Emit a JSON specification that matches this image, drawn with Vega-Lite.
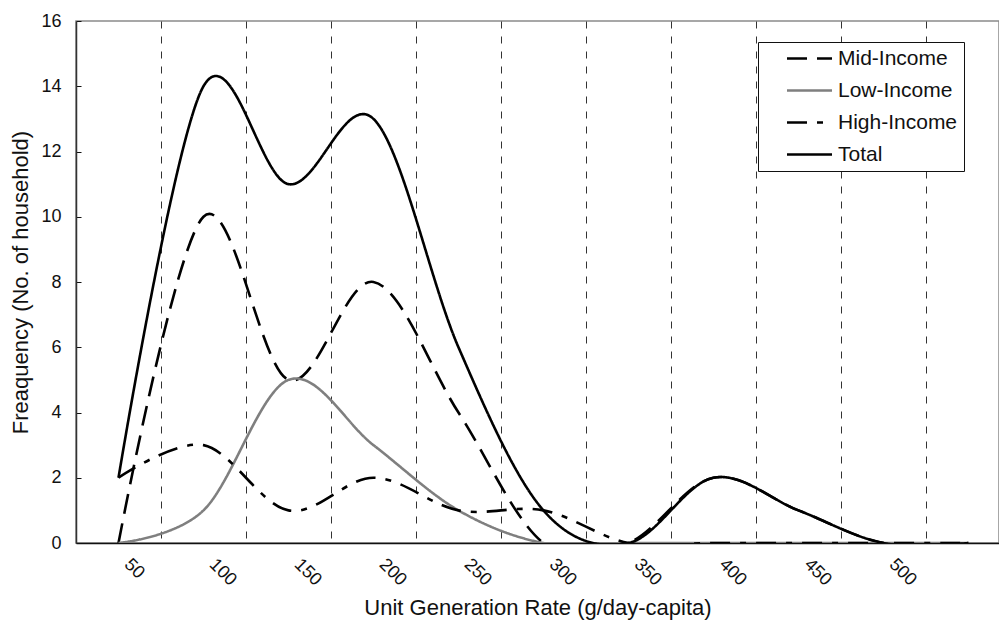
{
  "$schema": "https://vega.github.io/schema/vega-lite/v6.json",
  "width": 923,
  "height": 522,
  "autosize": {"type": "none"},
  "padding": {"left": 76, "top": 21, "right": 0, "bottom": 77},
  "background": "white",
  "config": {
    "font": "Liberation Sans",
    "view": {"stroke": "#8a8a8a", "strokeWidth": 1.5},
    "axis": {"labelColor": "#111", "titleColor": "#111", "labelFont": "Liberation Sans", "titleFont": "Liberation Sans", "titleFontWeight": "normal"},
    "legend": {
      "orient": "none",
      "legendX": 682,
      "legendY": 21,
      "padding": 6,
      "fillColor": "white",
      "strokeColor": "#111",
      "labelFont": "Liberation Sans",
      "labelFontSize": 21,
      "labelColor": "#111",
      "symbolType": "M-2.5,0H2.5",
      "symbolSize": 324,
      "symbolStrokeWidth": 2.6,
      "symbolOffset": 35,
      "labelOffset": 18,
      "rowPadding": 10
    }
  },
  "data": {
    "values": [
      {"rate": 50, "group": "Mid-Income", "households": 0},
      {"rate": 100, "group": "Mid-Income", "households": 10},
      {"rate": 150, "group": "Mid-Income", "households": 5},
      {"rate": 200, "group": "Mid-Income", "households": 8},
      {"rate": 250, "group": "Mid-Income", "households": 4},
      {"rate": 300, "group": "Mid-Income", "households": 0},
      {"rate": 350, "group": "Mid-Income", "households": 0},
      {"rate": 400, "group": "Mid-Income", "households": 2},
      {"rate": 450, "group": "Mid-Income", "households": 1},
      {"rate": 500, "group": "Mid-Income", "households": 0},
      {"rate": 550, "group": "Mid-Income", "households": 0},
      {"rate": 50, "group": "Low-Income", "households": 0},
      {"rate": 100, "group": "Low-Income", "households": 1},
      {"rate": 150, "group": "Low-Income", "households": 5},
      {"rate": 200, "group": "Low-Income", "households": 3},
      {"rate": 250, "group": "Low-Income", "households": 1},
      {"rate": 300, "group": "Low-Income", "households": 0},
      {"rate": 350, "group": "Low-Income", "households": 0},
      {"rate": 400, "group": "Low-Income", "households": 0},
      {"rate": 450, "group": "Low-Income", "households": 0},
      {"rate": 500, "group": "Low-Income", "households": 0},
      {"rate": 550, "group": "Low-Income", "households": 0},
      {"rate": 50, "group": "High-Income", "households": 2},
      {"rate": 100, "group": "High-Income", "households": 3},
      {"rate": 150, "group": "High-Income", "households": 1},
      {"rate": 200, "group": "High-Income", "households": 2},
      {"rate": 250, "group": "High-Income", "households": 1},
      {"rate": 300, "group": "High-Income", "households": 1},
      {"rate": 350, "group": "High-Income", "households": 0},
      {"rate": 400, "group": "High-Income", "households": 0},
      {"rate": 450, "group": "High-Income", "households": 0},
      {"rate": 500, "group": "High-Income", "households": 0},
      {"rate": 550, "group": "High-Income", "households": 0},
      {"rate": 50, "group": "Total", "households": 2},
      {"rate": 100, "group": "Total", "households": 14},
      {"rate": 150, "group": "Total", "households": 11},
      {"rate": 200, "group": "Total", "households": 13},
      {"rate": 250, "group": "Total", "households": 6},
      {"rate": 300, "group": "Total", "households": 1},
      {"rate": 350, "group": "Total", "households": 0},
      {"rate": 400, "group": "Total", "households": 2},
      {"rate": 450, "group": "Total", "households": 1},
      {"rate": 500, "group": "Total", "households": 0},
      {"rate": 550, "group": "Total", "households": 0}
    ]
  },
  "mark": {"type": "line", "interpolate": "cardinal", "clip": true, "strokeWidth": 2.6},
  "encoding": {
    "x": {
      "field": "rate",
      "type": "quantitative",
      "scale": {"domain": [25, 568], "nice": false, "zero": false},
      "axis": {
        "title": "Unit Generation Rate (g/day-capita)",
        "titleFontSize": 22,
        "titlePadding": 9,
        "values": [50, 100, 150, 200, 250, 300, 350, 400, 450, 500],
        "tickOffset": 42.5,
        "labelOffset": -28,
        "ticks": false,
        "grid": true,
        "gridColor": "#333",
        "gridDash": [7, 8],
        "gridWidth": 1,
        "labelAngle": 45,
        "labelFontSize": 18,
        "labelPadding": 12,
        "domainColor": "#111",
        "domainWidth": 1.5
      }
    },
    "y": {
      "field": "households",
      "type": "quantitative",
      "scale": {"domain": [0, 16], "nice": false},
      "axis": {
        "title": "Freaquency (No. of household)",
        "titleFontSize": 22,
        "titlePadding": 8,
        "values": [0, 2, 4, 6, 8, 10, 12, 14, 16],
        "grid": false,
        "tickSize": -5,
        "tickColor": "#111",
        "labelFontSize": 18,
        "labelPadding": 20,
        "domainColor": "#333",
        "domainWidth": 1.5
      }
    },
    "color": {
      "field": "group",
      "type": "nominal",
      "scale": {"domain": ["Mid-Income", "Low-Income", "High-Income", "Total"], "range": ["#000000", "#7f7f7f", "#000000", "#000000"]},
      "legend": {"title": null}
    },
    "strokeDash": {
      "field": "group",
      "type": "nominal",
      "scale": {"domain": ["Mid-Income", "Low-Income", "High-Income", "Total"], "range": [[20, 10], [1, 0], [20, 10, 6, 10], [1, 0]]},
      "legend": {"title": null}
    }
  }
}
